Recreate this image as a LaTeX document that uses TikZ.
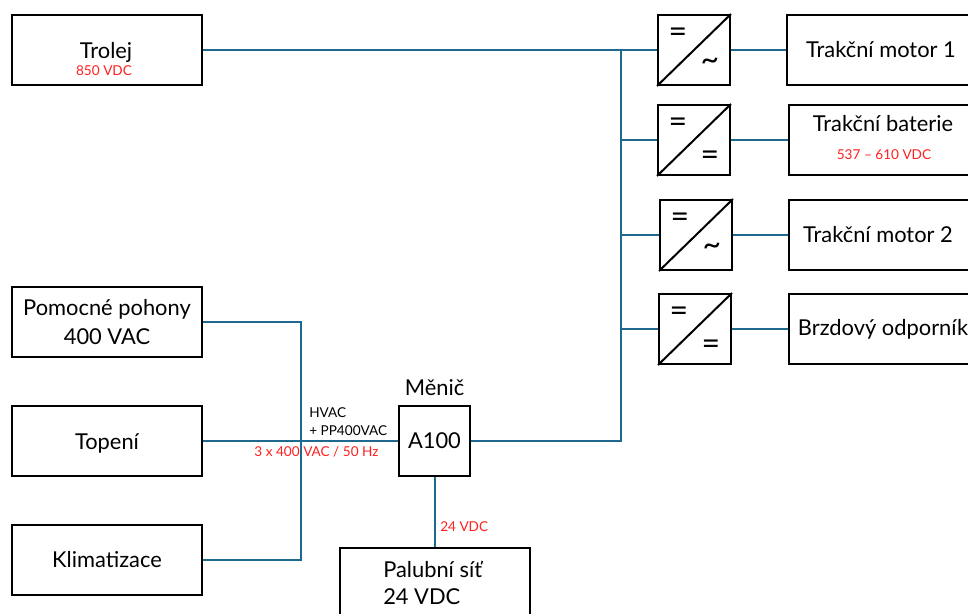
\documentclass[tikz,border=0pt]{standalone}
\usepackage{fontspec}
\setmainfont{Lato}
\usetikzlibrary{positioning, calc}
\definecolor{cBus}{RGB}{31,104,143}
\definecolor{cVolt}{RGB}{255,32,32}

\begin{document}
\begin{tikzpicture}[x=0.75pt, y=-0.75pt,
                    every node/.style={font=\fontsize{16.4}{19}\selectfont, inner sep=0pt},
                    box/.style={draw=black, line width=1.5pt, minimum width=142.5pt, minimum height=52.5pt},
                    conv/.style={draw=black, line width=1.5pt, minimum width=54pt, minimum height=52.5pt},
                    menic/.style={draw=black, line width=1.5pt, minimum width=53pt, minimum height=52.5pt},
                    bus/.style={draw=cBus, line width=1.5pt},
                    volt/.style={text=cVolt, font=\fontsize{10.2}{12}\selectfont},
                    note/.style={font=\fontsize{10.2}{13.5}\selectfont, align=left, anchor=west},
                    sym/.style={font=\fontsize{24}{24}\selectfont}]
    \useasboundingbox (0,0) rectangle (968,614);

    % Left side
    \node[box] (trolej) at (107,50) {};
    \node (trolejtxt) at (106,52) {Trolej};
    \node[volt] (trolejv) at (104,71) {850 VDC};
    \node[box, align=center] (pohony) at (107,322) {Pomocné pohony\\[3pt]400 VAC};
    \node[box] (topeni) at (107,441) {};
    \node (topenitxt) at (107,443) {Topení};
    \node[box] (klima) at (107,560) {Klimatizace};

    % Converters
    \node[conv] (conv1) at (694,50) {};
    \node[conv] (conv2) at (694,140) {};
    \node[conv] (conv3) at (696,235) {};
    \node[conv] (conv4) at (695,329) {};
    \foreach \c/\s/\d in {conv1/\char"007E/14, conv2/=/18, conv3/\char"007E/14, conv4/=/18} {
        \draw[line width=1.5pt] (\c.south west) -- (\c.north east);
        \node[sym] at ($(\c)+(-16,-15)$) {=};
        \node[sym] at ($(\c)+(16,\d)$) {\s};
    }

    % Right side
    \node[box] (motor1) at (882,50) {};
    \node (motor1txt) at (881,50) {Trakční motor 1};
    \node[box] (baterie) at (884,140) {};
    \node (bateritxt) at (883,124) {Trakční baterie};
    \node[volt] (bateriev) at (884,155) {537 – 610 VDC};
    \node[box] (motor2) at (884,235) {};
    \node (motor2txt) at (878,235) {Trakční motor 2};
    \node[box] (brzda) at (884,329) {};
    \node (brzdatxt) at (883,329) {Brzdový odporník};

    % Bottom
    \node[menic] (a100) at (434.5,441) {A100};
    \node[above=7pt of a100] (menictxt) {Měnič};
    \node[box] (sit) at (434.5,583) {};
    \node[anchor=west] (sittxt1) at (383,570) {Palubní síť};
    \node[anchor=west] (sittxt2) at (383,597) {24 VDC};

    % Junctions
    \coordinate (top) at (621,50);
    \coordinate (col) at (301,441);

    % Connections
    \draw[bus] (trolej) -- (conv1);
    \draw[bus] (top) |- (a100);
    \draw[bus] (conv2 -| top) -- (conv2);
    \draw[bus] (conv3 -| top) -- (conv3);
    \draw[bus] (conv4 -| top) -- (conv4);
    \draw[bus] (conv1) -- (motor1);
    \draw[bus] (conv2) -- (baterie);
    \draw[bus] (conv3) -- (motor2);
    \draw[bus] (conv4) -- (brzda);
    \draw[bus] (pohony) -| (col) |- (klima);
    \draw[bus] (topeni) -- (a100);
    \draw[bus] (a100) -- (sit);

    % Labels
    \node[note] (hvac) at (309,422) {HVAC\\+ PP400VAC};
    \node[volt] (acv) at (316.5,452) {3 x 400 VAC / 50 Hz};
    \node[volt, anchor=west] (dcv) at (440,527) {24 VDC};

\end{tikzpicture}
\end{document}
